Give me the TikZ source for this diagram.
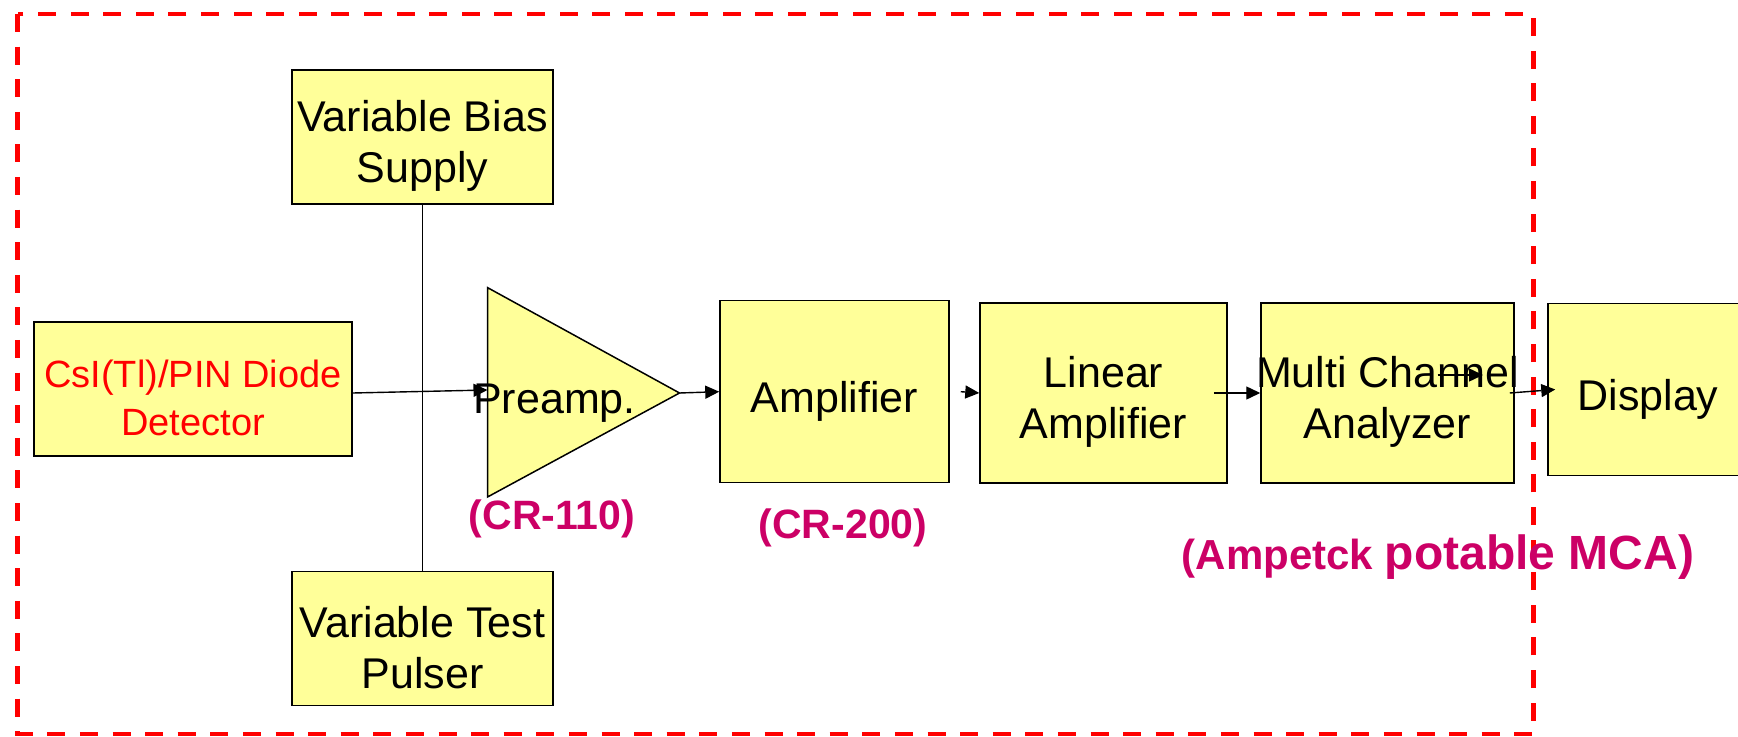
\documentclass[tikz,border=0pt]{standalone}
\usepackage{fontspec}
\setmainfont{Liberation Sans}
\usetikzlibrary{arrows.meta}
\definecolor{boxyellow}{RGB}{255,255,153}
\definecolor{labelmagenta}{RGB}{204,0,102}
\tikzset{
  block/.style={draw, line width=0.75pt, fill=boxyellow, inner sep=0pt, align=center,
    font=\fontsize{21.5}{25.5}\selectfont},
  text drop/.style={execute at begin node={\rule{0pt}{#1}}},
  link/.style={-{Triangle[length=7pt,width=6.5pt]}, line width=0.7pt},
  wire/.style={line width=0.85pt},
  part label/.style={anchor=base, text=labelmagenta, inner sep=0pt,
    font=\bfseries\fontsize{20.5}{24}\selectfont},
  frame/.style={red, line width=2.25pt, dash pattern=on 9pt off 7.3pt},
}

\begin{document}
\begin{tikzpicture}[x=0.5pt, y=-0.5pt]

  \useasboundingbox (0,0) rectangle (1738,737);
  \clip (0,0) rectangle (1738,737);

  % Dashed frame round the set-up
  \draw[frame] (17.5,14) rectangle (1533.5,734);

  % Bias supply and test pulser
  \node[block, text drop=50pt, minimum width=130.5pt, minimum height=67pt] (bias) at (422.5,137) {Variable Bias\\Supply};
  \node[block, text drop=50pt, minimum width=130.5pt, minimum height=67pt] (pulser) at (422.5,638.6) {Variable Test\\Pulser};
  \draw[wire] (bias.south) -- (pulser.north);

  % Detector
  \node[block, text drop=46.5pt, minimum width=159pt, minimum height=67pt, text=red,
    font=\fontsize{19}{24}\selectfont] (det) at (193,389) {CsI(Tl)/PIN Diode\\Detector};

  % Preamp triangle
  \coordinate (pre top) at (487.5,287.6);
  \coordinate (pre bottom) at (487.5,497);
  \coordinate (pre out) at (679.5,393);
  \coordinate (pre in) at (487.5,390);
  \draw[line width=0.75pt, fill=boxyellow] (pre top) -- (pre out) -- (pre bottom) -- cycle;
  \node[anchor=base, inner sep=0pt, font=\fontsize{21.5}{25.5}\selectfont] (pre) at (554.5,413.5) {Preamp.};

  % Shaping chain
  \node[block, text drop=25pt, minimum width=114.5pt, minimum height=91pt] (amp) at (834.5,391.7) {Amplifier};
  \node[block, text drop=50pt, minimum width=123.5pt, minimum height=90pt] (lin) at (1103.5,393) {Linear\\Amplifier};
  \node[block, text drop=50pt, minimum width=126.5pt, minimum height=90pt] (mca) at (1387.5,393) {\makebox[0pt]{Multi Channel}\\Analyzer};
  \node[block, text drop=25pt, minimum width=100pt, minimum height=86pt] (disp) at (1648,389.5) {Display};

  % Signal arrows
  \draw[link] ([yshift=-2pt]det.east) -- (pre in);
  \draw[link] (pre out) -- (amp.west);
  \draw[link] ([xshift=5.5pt]amp.east) -- (lin.west);
  \draw[link] ([xshift=-7pt]lin.east) -- (mca.west);
  \coordinate (mca stub) at (1437.5,375);
  \coordinate (mca stub end) at (1483,375);
  \draw[link] (mca stub) -- (mca stub end);
  \draw[link] ([xshift=-2.5pt]mca.east) -- ([xshift=4pt]disp.west);

  % Model labels
  \node[part label] (cr110) at (552,529.6) {(CR-110)};
  \node[part label] (cr200) at (843,538) {(CR-200)};
  \node[part label] (mca label) at (1438,569.5)
    {{\fontsize{21}{24}\selectfont(Ampetck} {\fontsize{24}{28}\selectfont potable MCA)}};

\end{tikzpicture}
\end{document}
